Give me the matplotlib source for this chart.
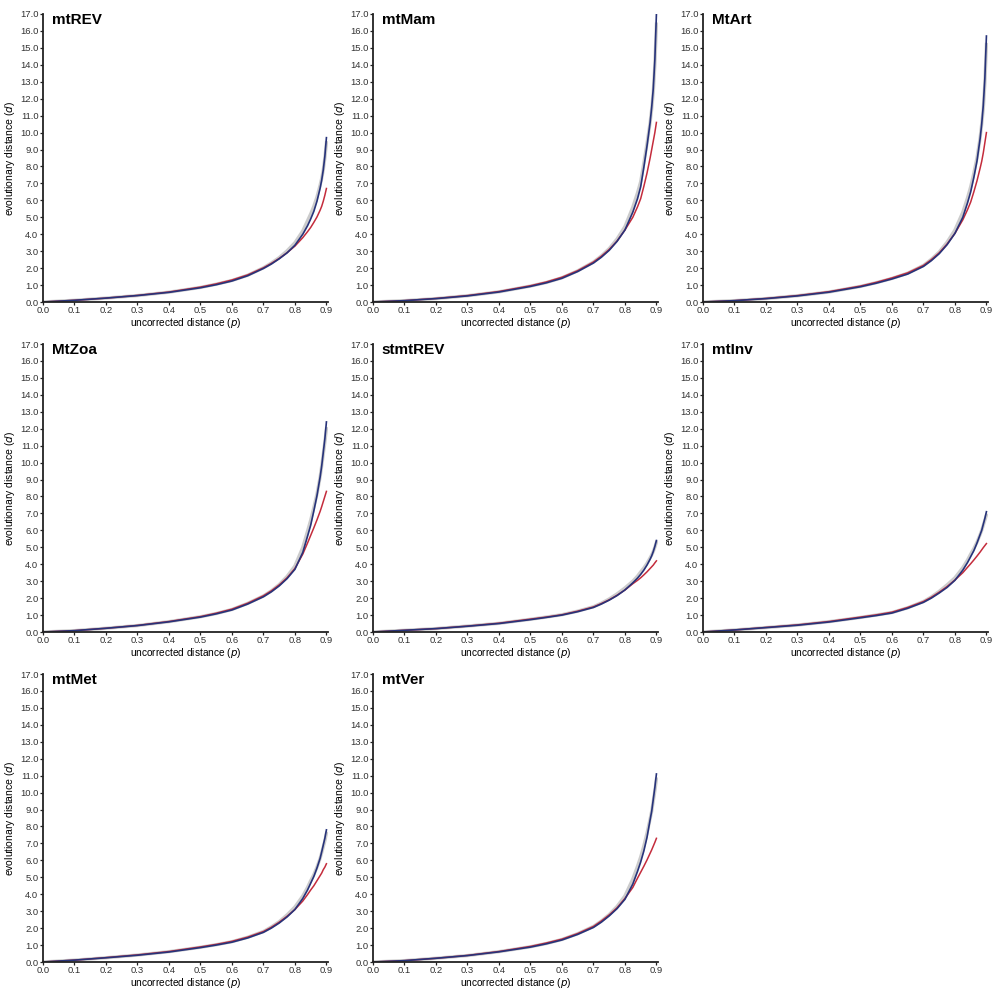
import matplotlib
matplotlib.use("Agg")
import matplotlib.pyplot as plt
from matplotlib.ticker import FormatStrFormatter

plt.rcParams['font.family'] = ['Liberation Sans', 'DejaVu Sans']

# uncorrected distance grid (read points)
p = [0, .1, .2, .3, .4, .5, .55, .6, .65, .7, .725, .75, .775, .8, .825, .84, .85,
     .86, .87, .88, .885, .89, .895, .9]

titles = ["mtREV", "mtMam", "MtArt", "MtZoa", "stmtREV", "mtInv", "mtMet", "mtVer"]

mtREV_blue = [0, .10, .23, .38, .57, .84, 1.02, 1.24, 1.55, 1.98, 2.24, 2.55, 2.90, 3.35, 4.0, 4.5, 4.9, 5.35, 5.95, 6.72, 7.2, 7.8, 8.6, 9.7]
mtREV_red = [0, .10, .23, .39, .59, .88, 1.07, 1.30, 1.60, 2.02, 2.28, 2.57, 2.91, 3.30, 3.8, 4.15, 4.4, 4.7, 5.02, 5.42, 5.65, 5.95, 6.3, 6.7]
mtREV_grey = [0, .10, .23, .38, .58, .86, 1.05, 1.27, 1.58, 2.02, 2.30, 2.62, 3.02, 3.50, 4.2, 4.8, 5.2, 5.65, 6.2, 6.9, 7.3, 7.8, 8.5, 9.4]

mtMam_blue = [0, .08, .20, .36, .59, .92, 1.13, 1.40, 1.80, 2.30, 2.64, 3.05, 3.58, 4.25, 5.3, 6.1, 6.8, 7.95, 9.2, 10.6, 11.5, 12.6, 14.3, 17.0]
mtMam_red = [0, .08, .21, .38, .62, .96, 1.18, 1.46, 1.85, 2.36, 2.70, 3.10, 3.60, 4.25, 5.0, 5.62, 6.1, 6.82, 7.6, 8.5, 9.0, 9.5, 10.0, 10.6]
mtMam_grey = [0, .08, .20, .37, .60, .94, 1.15, 1.43, 1.84, 2.36, 2.72, 3.15, 3.72, 4.45, 5.6, 6.45, 7.1, 8.2, 9.35, 10.6, 11.4, 12.4, 14.0, 16.4]

MtArt_blue = [0, .08, .20, .36, .58, .90, 1.11, 1.36, 1.65, 2.10, 2.44, 2.85, 3.38, 4.05, 5.0, 5.85, 6.5, 7.35, 8.32, 9.65, 10.5, 11.6, 13.2, 15.7]
MtArt_red = [0, .08, .21, .38, .61, .94, 1.16, 1.42, 1.72, 2.16, 2.50, 2.90, 3.42, 4.05, 4.85, 5.45, 5.9, 6.5, 7.15, 7.9, 8.3, 8.8, 9.4, 10.0]
MtArt_grey = [0, .08, .20, .37, .59, .92, 1.14, 1.39, 1.70, 2.16, 2.52, 2.95, 3.53, 4.25, 5.3, 6.15, 6.8, 7.6, 8.5, 9.7, 10.5, 11.4, 12.9, 15.2]

MtZoa_blue = [0, .08, .22, .38, .60, .88, 1.07, 1.30, 1.65, 2.08, 2.37, 2.72, 3.15, 3.70, 4.7, 5.65, 6.3, 7.15, 8.05, 9.15, 9.8, 10.6, 11.4, 12.4]
MtZoa_red = [0, .08, .22, .39, .62, .91, 1.11, 1.35, 1.70, 2.14, 2.43, 2.78, 3.2, 3.75, 4.6, 5.25, 5.7, 6.15, 6.62, 7.12, 7.4, 7.7, 8.0, 8.3]
MtZoa_grey = [0, .08, .22, .38, .61, .90, 1.09, 1.33, 1.69, 2.13, 2.43, 2.80, 3.28, 3.90, 5.0, 5.95, 6.6, 7.35, 8.15, 9.15, 9.8, 10.5, 11.2, 12.0]

stmtREV_blue = [0, .10, .20, .34, .50, .73, .86, 1.0, 1.2, 1.45, 1.65, 1.88, 2.15, 2.48, 2.9, 3.18, 3.4, 3.65, 3.95, 4.3, 4.5, 4.75, 5.05, 5.4]
stmtREV_red = [0, .10, .20, .35, .52, .76, .88, 1.02, 1.23, 1.48, 1.68, 1.90, 2.17, 2.48, 2.85, 3.05, 3.2, 3.37, 3.55, 3.75, 3.85, 3.95, 4.08, 4.2]
stmtREV_grey = [0, .10, .20, .35, .51, .75, .88, 1.02, 1.23, 1.49, 1.70, 1.95, 2.25, 2.60, 3.0, 3.3, 3.55, 3.78, 4.05, 4.38, 4.55, 4.75, 5.0, 5.3]

mtInv_blue = [0, .12, .26, .40, .59, .84, .97, 1.12, 1.40, 1.75, 2.0, 2.3, 2.63, 3.05, 3.65, 4.1, 4.45, 4.8, 5.25, 5.75, 6.0, 6.35, 6.7, 7.1]
mtInv_red = [0, .12, .27, .42, .62, .88, 1.01, 1.17, 1.45, 1.8, 2.05, 2.35, 2.68, 3.07, 3.5, 3.82, 4.03, 4.25, 4.48, 4.72, 4.85, 4.98, 5.1, 5.22]
mtInv_grey = [0, .12, .26, .41, .61, .86, 1.0, 1.15, 1.43, 1.80, 2.07, 2.40, 2.78, 3.20, 3.8, 4.25, 4.6, 4.92, 5.3, 5.75, 6.0, 6.3, 6.6, 6.9]

mtMet_blue = [0, .11, .25, .40, .59, .85, 1.0, 1.17, 1.42, 1.75, 2.0, 2.30, 2.66, 3.10, 3.75, 4.25, 4.65, 5.05, 5.55, 6.12, 6.5, 6.9, 7.3, 7.8]
mtMet_red = [0, .11, .26, .42, .62, .89, 1.04, 1.22, 1.47, 1.80, 2.05, 2.35, 2.70, 3.10, 3.6, 3.98, 4.25, 4.5, 4.8, 5.1, 5.25, 5.45, 5.6, 5.8]
mtMet_grey = [0, .11, .25, .41, .61, .87, 1.02, 1.20, 1.46, 1.80, 2.07, 2.38, 2.78, 3.25, 3.9, 4.4, 4.8, 5.15, 5.6, 6.12, 6.45, 6.8, 7.15, 7.6]

mtVer_blue = [0, .08, .22, .38, .60, .88, 1.07, 1.30, 1.63, 2.04, 2.35, 2.72, 3.15, 3.70, 4.6, 5.35, 5.9, 6.55, 7.35, 8.4, 8.9, 9.6, 10.3, 11.1]
mtVer_red = [0, .08, .22, .39, .62, .92, 1.12, 1.35, 1.68, 2.10, 2.42, 2.78, 3.2, 3.75, 4.4, 4.95, 5.3, 5.65, 6.02, 6.42, 6.62, 6.84, 7.06, 7.3]
mtVer_grey = [0, .08, .22, .38, .61, .90, 1.09, 1.33, 1.67, 2.10, 2.42, 2.80, 3.28, 3.90, 4.9, 5.65, 6.2, 6.85, 7.6, 8.45, 8.9, 9.5, 10.1, 10.8]

blues = [mtREV_blue, mtMam_blue, MtArt_blue, MtZoa_blue, stmtREV_blue, mtInv_blue, mtMet_blue, mtVer_blue]
reds = [mtREV_red, mtMam_red, MtArt_red, MtZoa_red, stmtREV_red, mtInv_red, mtMet_red, mtVer_red]
greys = [mtREV_grey, mtMam_grey, MtArt_grey, MtZoa_grey, stmtREV_grey, mtInv_grey, mtMet_grey, mtVer_grey]

x_ticks = [0.0, 0.1, 0.2, 0.3, 0.4, 0.5, 0.6, 0.7, 0.8, 0.9]
y_ticks = list(range(0, 18))

W, H = 996, 989
fig = plt.figure(figsize=(W / 100, H / 100), dpi=100)

col_left = [43, 373, 703]
row_bottom = [302, 632, 962]
ax_w, ax_h = 285, 288

BLUE = '#27337a'
RED = '#c42c3c'

for i, name in enumerate(titles):
    r, c = divmod(i, 3)
    ax = fig.add_axes([col_left[c] / W, 1 - row_bottom[r] / H, ax_w / W, ax_h / H])
    ax.plot(p, greys[i], color='#9a9a9a', lw=2.4, alpha=0.5, solid_joinstyle='round')
    ax.plot(p, reds[i], color=RED, lw=1.1, solid_joinstyle='round')
    ax.plot(p, blues[i], color=BLUE, lw=1.2, solid_joinstyle='round')
    ax.set_xlim(0, 0.905)
    ax.set_ylim(0, 17)
    ax.set_xticks(x_ticks)
    ax.set_yticks(y_ticks)
    ax.xaxis.set_major_formatter(FormatStrFormatter('%.1f'))
    ax.yaxis.set_major_formatter(FormatStrFormatter('%.1f'))
    for s in ['top', 'right']:
        ax.spines[s].set_visible(False)
    for s in ['left', 'bottom']:
        ax.spines[s].set_linewidth(1.3)
        ax.spines[s].set_color('#222222')
    ax.tick_params(axis='both', labelsize=6.8, length=2.5, width=0.9, pad=0.8,
                   color='#222222', labelcolor='#333333')
    ax.tick_params(axis='x', pad=0.3)
    ax.set_xlabel('uncorrected distance ($\\it{p}$)', fontsize=7.3, va='top')
    ax.xaxis.set_label_coords(0.5, -0.049)
    ax.set_ylabel('evolutionary distance ($\\it{d}$)', fontsize=7.5, labelpad=2)
    ax.text(0.03, 1.005, name, transform=ax.transAxes, fontsize=11,
            fontweight='bold', va='top', ha='left')

fig.savefig('out.png', dpi=100)
